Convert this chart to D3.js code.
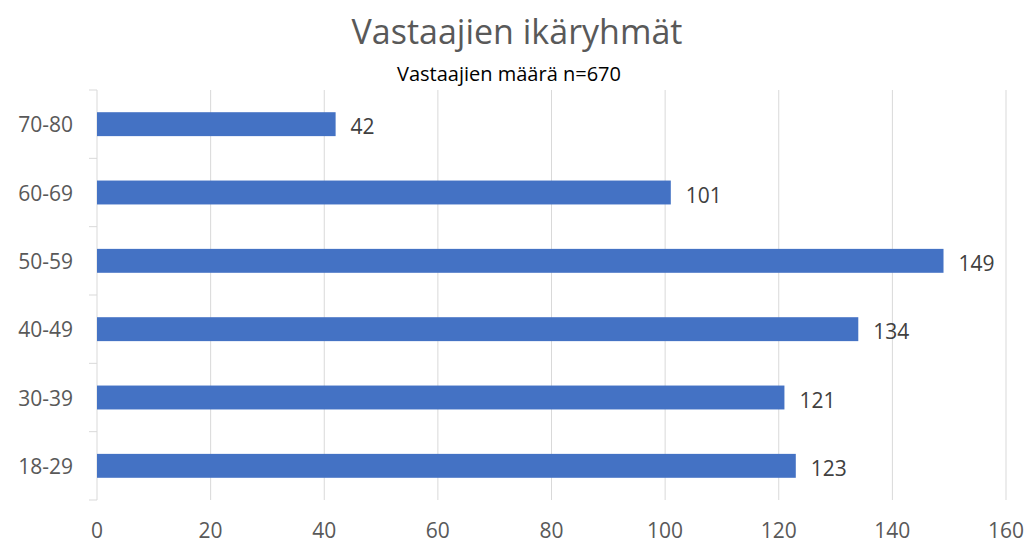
<!DOCTYPE html>
<html>
<head>
<meta charset="utf-8">
<script src="https://cdn.jsdelivr.net/npm/d3@7"></script>
<style>
  body { margin: 0; background: #fff; }
  text { font-family: "Open Sans", "Liberation Sans", sans-serif; }
</style>
</head>
<body>
<div id="chart"></div>
<script>
// Ikäryhmät alhaalta ylös
const categories = ['18-29', '30-39', '40-49', '50-59', '60-69', '70-80'];
const values = [123, 121, 134, 149, 101, 42];
const xTicks = [0, 20, 40, 60, 80, 100, 120, 140, 160];

const width = 1032;
const height = 545;
const margin = { top: 90, right: 26, bottom: 45, left: 97 };

const svg = d3.select('#chart')
  .append('svg')
  .attr('width', width)
  .attr('height', height);

const x = d3.scaleLinear()
  .domain([0, 160])
  .range([margin.left, width - margin.right]);

const y = d3.scaleBand()
  .domain(categories.slice().reverse())
  .range([margin.top, height - margin.bottom])
  .paddingInner(0.65)
  .paddingOuter(0.325);

const yOuter = d3.scaleBand()
  .domain(categories.slice().reverse())
  .range([margin.top, height - margin.bottom]);

// Otsikot
svg.append('text')
  .attr('x', 517)
  .attr('y', 44)
  .attr('text-anchor', 'middle')
  .attr('font-size', 34)
  .attr('fill', '#595959')
  .text('Vastaajien ikäryhmät');

svg.append('text')
  .attr('x', 509)
  .attr('y', 81)
  .attr('text-anchor', 'middle')
  .attr('font-size', 20)
  .attr('fill', '#000')
  .text('Vastaajien määrä n=670');

// Pystysuorat ruudukkoviivat
svg.append('g')
  .selectAll('line')
  .data(xTicks.slice(1))
  .enter()
  .append('line')
  .attr('x1', d => x(d))
  .attr('x2', d => x(d))
  .attr('y1', margin.top)
  .attr('y2', height - margin.bottom)
  .attr('stroke', '#d9d9d9')
  .attr('stroke-width', 1);

// Y-akseli ja jakoviivat
svg.append('line')
  .attr('x1', x(0))
  .attr('x2', x(0))
  .attr('y1', margin.top)
  .attr('y2', height - margin.bottom)
  .attr('stroke', '#d9d9d9');

const bounds = categories.map(c => yOuter(c)).concat([height - margin.bottom]);
svg.append('g')
  .selectAll('line')
  .data(bounds)
  .enter()
  .append('line')
  .attr('x1', x(0) - 8)
  .attr('x2', x(0))
  .attr('y1', d => d)
  .attr('y2', d => d)
  .attr('stroke', '#d9d9d9');

// X-akselin luvut
svg.append('g')
  .selectAll('text')
  .data(xTicks)
  .enter()
  .append('text')
  .attr('x', d => x(d))
  .attr('y', 538)
  .attr('text-anchor', 'middle')
  .attr('font-size', 21)
  .attr('fill', '#595959')
  .text(d => d);

// Kategoriat
svg.append('g')
  .selectAll('text')
  .data(categories)
  .enter()
  .append('text')
  .attr('x', 73)
  .attr('y', d => yOuter(d) + yOuter.bandwidth() / 2 + 8)
  .attr('text-anchor', 'end')
  .attr('font-size', 21)
  .attr('fill', '#595959')
  .text(d => d);

// Palkit
svg.append('g')
  .selectAll('rect')
  .data(values)
  .enter()
  .append('rect')
  .attr('x', x(0))
  .attr('y', (d, i) => y(categories[i]))
  .attr('width', d => x(d) - x(0))
  .attr('height', y.bandwidth())
  .attr('fill', '#4472c4');

// Arvot
svg.append('g')
  .selectAll('text')
  .data(values)
  .enter()
  .append('text')
  .attr('x', d => x(d) + 15)
  .attr('y', (d, i) => y(categories[i]) + y.bandwidth() / 2 + 10)
  .attr('font-size', 21)
  .attr('fill', '#404040')
  .text(d => d);
</script>
</body>
</html>
